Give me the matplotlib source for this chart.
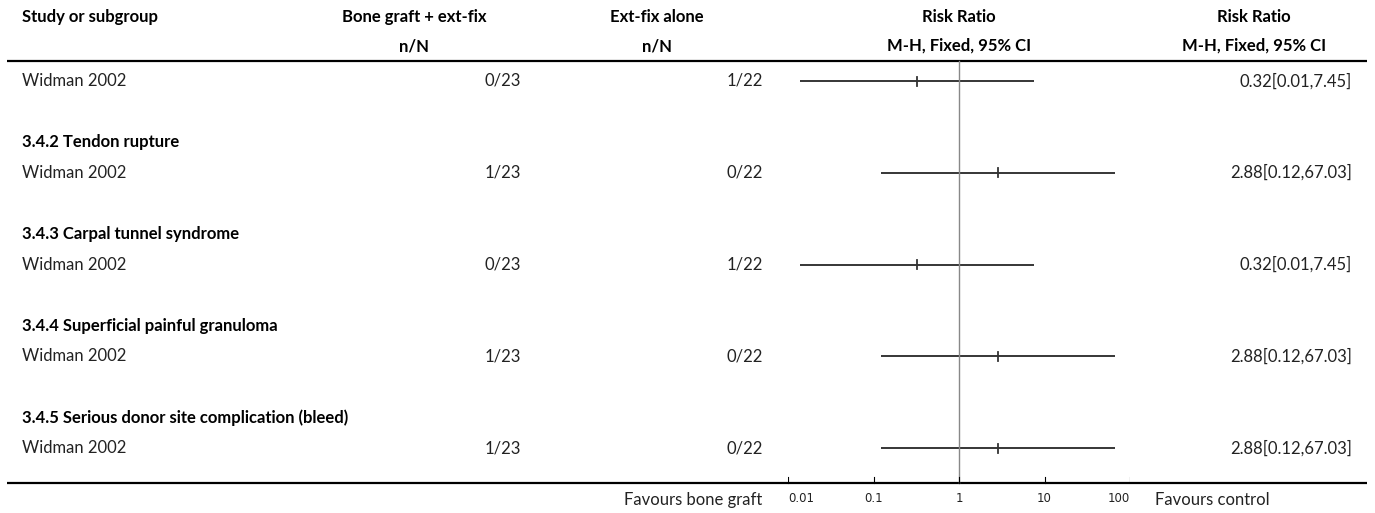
import matplotlib
matplotlib.use("Agg")
import matplotlib.pyplot as plt

plt.rcParams['font.family'] = ['Lato', 'DejaVu Sans']

# subgroup headings and the single study in each
subgroups = ["", "3.4.2 Tendon rupture", "3.4.3 Carpal tunnel syndrome",
             "3.4.4 Superficial painful granuloma",
             "3.4.5 Serious donor site complication (bleed)"]
studies = ["Widman 2002"] * 5
graft_nN = ["0/23", "1/23", "0/23", "1/23", "1/23"]
control_nN = ["1/22", "0/22", "1/22", "0/22", "0/22"]
rr = [0.32, 2.88, 0.32, 2.88, 2.88]
# lower bounds (print as 0.01 / 0.12)
lo = [0.0137, 0.123, 0.0137, 0.123, 0.123]
hi = [7.45, 67.03, 7.45, 67.03, 67.03]
ticks = [0.01, 0.1, 1, 10, 100]
tick_labels = ["0.01", "0.1", "1", "10", "100"]

W, H = 1375, 513
fig = plt.figure(figsize=(W / 100, H / 100), dpi=100)
ax = fig.add_axes([0, 0, 1, 1])
ax.set_xlim(0, W)
ax.set_ylim(H, 0)
ax.axis('off')

# forest panel on a log scale
fx0, fx1 = 788, 1130
fax = fig.add_axes([fx0 / W, 0, (fx1 - fx0) / W, 1])
fax.set_xscale('log')
fax.set_xlim(0.01, 100)
fax.set_ylim(H, 0)
fax.axis('off')

fs = 12
bold = dict(fontsize=fs, fontweight='bold', va='center')
reg = dict(fontsize=fs, va='center', color='#222222')

# header
ax.text(22, 17, "Study or subgroup", ha='left', **bold)
ax.text(414, 17, "Bone graft + ext-fix", ha='center', **bold)
ax.text(414, 46, "n/N", ha='center', **bold)
ax.text(657, 17, "Ext-fix alone", ha='center', **bold)
ax.text(657, 46, "n/N", ha='center', **bold)
ax.text(959, 17, "Risk Ratio", ha='center', **bold)
ax.text(959, 46, "M-H, Fixed, 95% CI", ha='center', **bold)
ax.text(1254, 17, "Risk Ratio", ha='center', **bold)
ax.text(1254, 46, "M-H, Fixed, 95% CI", ha='center', **bold)

top_line, bottom_line = 61, 483
ax.plot([7, 1367], [top_line, top_line], color='black', lw=1.6, solid_capstyle='butt')
ax.plot([7, 1367], [bottom_line, bottom_line], color='black', lw=1.6, solid_capstyle='butt')

row_h = 30.6
y = 81
for i in range(len(studies)):
    if subgroups[i]:
        ax.text(22, y, subgroups[i], ha='left', **bold)
        y += row_h
    ax.text(22, y, studies[i], ha='left', **reg)
    ax.text(521, y, graft_nN[i], ha='right', **reg)
    ax.text(763, y, control_nN[i], ha='right', **reg)
    ax.text(1352, y, f"{rr[i]:.2f}[{lo[i]:.2f},{hi[i]:.2f}]", ha='right', **reg)
    fax.plot([lo[i], hi[i]], [y, y], color='black', lw=1.1, solid_capstyle='butt')
    fax.plot([rr[i], rr[i]], [y - 4.5, y + 4.5], color='#333333', lw=1.3)
    y += row_h * 2

# line of no effect
fax.plot([1, 1], [top_line, bottom_line], color='#888888', lw=1.0)

# axis ticks and labels
for t, lab in zip(ticks, tick_labels):
    fax.plot([t, t], [bottom_line, bottom_line - 6], color='black', lw=0.8)
    ha = 'left' if t == ticks[0] else ('right' if t == ticks[-1] else 'center')
    fax.text(t, 498, lab, ha=ha, va='center', fontsize=8.5, family='DejaVu Sans', color='#222222')

ax.text(762, 500, "Favours bone graft", ha='right', **reg)
ax.text(1155, 500, "Favours control", ha='left', **reg)

fig.savefig("out.png", dpi=100)
